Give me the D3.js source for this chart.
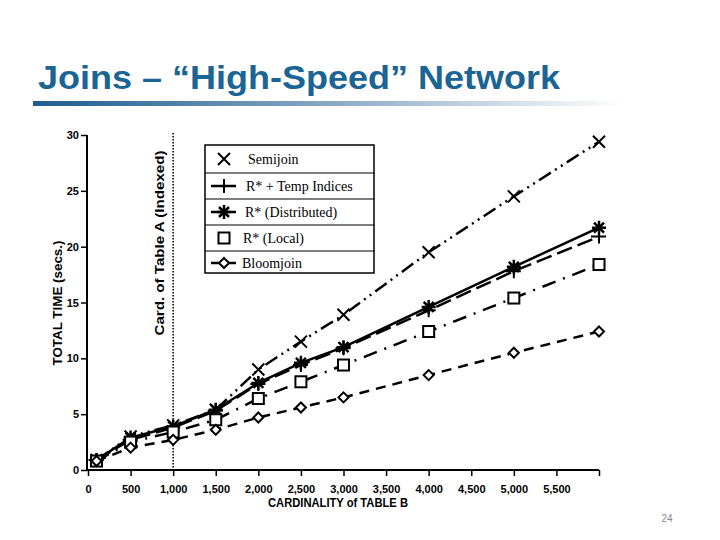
<!DOCTYPE html>
<html><head><meta charset="utf-8">
<script src="https://cdn.jsdelivr.net/npm/d3@7"></script>
<style>body{margin:0;background:#fff}svg{display:block}</style>
</head><body>
<svg id="c" width="720" height="540"></svg>
<script>
const xVals = [100, 500, 1000, 1500, 2000, 2500, 3000, 4000, 5000, 6000];
const semijoin = [0.9, 3.0, 4.0, 5.4, 9.0, 11.5, 13.9, 19.5, 24.5, 29.4];
const rTemp = [0.9, 2.7, 3.8, 5.3, 7.7, 9.4, 10.9, 14.3, 17.8, 20.9];
const rDist = [0.9, 2.9, 3.9, 5.4, 7.8, 9.6, 11.0, 14.6, 18.2, 21.7];
const rLocal = [0.8, 2.5, 3.4, 4.5, 6.4, 7.9, 9.4, 12.4, 15.4, 18.4];
const bloom = [0.8, 2.0, 2.7, 3.6, 4.7, 5.6, 6.5, 8.5, 10.5, 12.4];
const seriesNames = ["Semijoin", "R* + Temp Indices", "R* (Distributed)", "R* (Local)", "Bloomjoin"];
const xTicks = [0, 500, 1000, 1500, 2000, 2500, 3000, 3500, 4000, 4500, 5000, 5500, 6000];
const xTickLabels = ["0", "500", "1,000", "1,500", "2,000", "2,500", "3,000", "3,500", "4,000", "4,500", "5,000", "5,500", ""];
const yTicks = [0, 5, 10, 15, 20, 25, 30];
const indexedCard = 1000;

const svg = d3.select("#c");
const x = d3.scaleLinear().domain([0, 6000]).range([88, 599]);
const y = d3.scaleLinear().domain([0, 30]).range([470, 135]);

// Title
const defs = svg.append("defs");
const g = defs.append("linearGradient").attr("id", "bar").attr("x1", 0).attr("x2", 1);
g.append("stop").attr("offset", 0).attr("stop-color", "#1f5d8f");
g.append("stop").attr("offset", 0.45).attr("stop-color", "#7d9fbd");
g.append("stop").attr("offset", 1).attr("stop-color", "#ffffff");
svg.append("rect").attr("x", 33).attr("y", 101).attr("width", 590).attr("height", 5).attr("fill", "url(#bar)");
svg.append("text").attr("x", 38).attr("y", 89).text("Joins \u2013 \u201cHigh-Speed\u201d Network")
  .attr("font-family", "Liberation Sans, Arial, sans-serif").attr("font-weight", "bold")
  .attr("font-size", 34).attr("fill", "#1a6496")
  .attr("textLength", 522).attr("lengthAdjust", "spacingAndGlyphs");
svg.append("text").attr("x", 667).attr("y", 522).text("24")
  .attr("font-family", "Liberation Sans, Arial, sans-serif").attr("font-size", 10).attr("fill", "#8a8a8a").attr("text-anchor", "middle");

const axisFont = "Liberation Sans, Arial, sans-serif";

// Axes
const xAxis = svg.append("g").attr("transform", "translate(0,470)")
  .call(d3.axisBottom(x).tickValues(xTicks).tickFormat((d, i) => xTickLabels[i]).tickSize(6).tickPadding(9));
const yAxis = svg.append("g").attr("transform", "translate(87,0)")
  .call(d3.axisLeft(y).tickValues(yTicks).tickSize(6).tickPadding(2));
[xAxis, yAxis].forEach(a => {
  a.select(".domain").attr("stroke", "#000").attr("stroke-width", 2);
  a.selectAll(".tick line").attr("stroke", "#000").attr("stroke-width", 1.5);
  a.selectAll("text").attr("font-family", axisFont).attr("font-weight", "bold").attr("font-size", 11).attr("fill", "#000");
});
xAxis.select(".domain").attr("d", `M${x(0)-1},0H${x(6000)}`);
yAxis.select(".domain").attr("d", `M0,${y(0)}V${y(30)}`);
yAxis.selectAll("text").attr("dy", "0.32em");

svg.append("text").attr("x", 338).attr("y", 507).text("CARDINALITY of TABLE B")
  .attr("font-family", axisFont).attr("font-weight", "bold").attr("font-size", 12)
  .attr("text-anchor", "middle").attr("textLength", 140).attr("lengthAdjust", "spacingAndGlyphs");
svg.append("text").attr("transform", "translate(62,303) rotate(-90)").text("TOTAL TIME (secs.)")
  .attr("font-family", axisFont).attr("font-weight", "bold").attr("font-size", 12)
  .attr("text-anchor", "middle").attr("textLength", 125).attr("lengthAdjust", "spacingAndGlyphs");

// Indexed card line
svg.append("line").attr("x1", x(indexedCard)).attr("x2", x(indexedCard)).attr("y1", y(30) - 2).attr("y2", y(0))
  .attr("stroke", "#000").attr("stroke-width", 1.5).attr("stroke-dasharray", "1.5,1.5");
svg.append("text").attr("transform", `translate(${x(indexedCard) - 9},243) rotate(-90)`).text("Card. of Table A (Indexed)")
  .attr("font-family", axisFont).attr("font-weight", "bold").attr("font-size", 12)
  .attr("text-anchor", "middle").attr("textLength", 185).attr("lengthAdjust", "spacingAndGlyphs");

// Series
const series = [
  {name: seriesNames[0], vals: semijoin, dash: "14,5,2,5,2,5", marker: "x"},
  {name: seriesNames[1], vals: rTemp, dash: "16,6", marker: "plus"},
  {name: seriesNames[2], vals: rDist, dash: null, marker: "star"},
  {name: seriesNames[3], vals: rLocal, dash: "14,8,2,8", marker: "square"},
  {name: seriesNames[4], vals: bloom, dash: "10,7", marker: "diamond"}
];
const line = d3.line().x(d => x(d[0])).y(d => y(d[1]));

function drawMarker(sel, type, cx, cy) {
  const m = sel.append("g").attr("transform", `translate(${cx},${cy})`).attr("stroke", "#000").attr("fill", "none");
  if (type === "x") {
    m.append("path").attr("d", "M-6,-6L6,6M-6,6L6,-6").attr("stroke-width", 2);
  } else if (type === "plus") {
    m.append("path").attr("d", "M-8,0H7M0,-7V7").attr("stroke-width", 2);
  } else if (type === "star") {
    m.append("path").attr("d", "M-7,0H7M0,-7V7M-5,-5L5,5M-5,5L5,-5").attr("stroke-width", 2.5);
  } else if (type === "square") {
    m.append("rect").attr("x", -5.5).attr("y", -5.5).attr("width", 11).attr("height", 11).attr("fill", "#fff").attr("stroke-width", 2);
  } else if (type === "diamond") {
    m.append("path").attr("d", "M0,-5L5,0L0,5L-5,0Z").attr("fill", "#fff").attr("stroke-width", 2);
  }
}

series.forEach(s => {
  const pts = xVals.map((v, i) => [v, s.vals[i]]);
  svg.append("path").attr("d", line(pts)).attr("fill", "none").attr("stroke", "#000")
    .attr("stroke-width", 2.5).attr("stroke-dasharray", s.dash);
});
series.forEach(s => {
  const mg = svg.append("g");
  xVals.forEach((v, i) => drawMarker(mg, s.marker, x(v), y(s.vals[i])));
});

// Legend
const lg = svg.append("g");
const rowY = [159, 186, 212, 238, 263];
const textX = [248, 246, 245, 243, 242];
lg.append("rect").attr("x", 205).attr("y", 145).attr("width", 169).attr("height", 128)
  .attr("fill", "#fff").attr("stroke", "#000").attr("stroke-width", 1.5);
[173, 199, 225, 251].forEach(yy => lg.append("line").attr("x1", 205).attr("x2", 374).attr("y1", yy).attr("y2", yy)
  .attr("stroke", "#000").attr("stroke-width", 1.2));
series.forEach((s, i) => {
  if (s.marker === "plus" || s.marker === "star" || s.marker === "diamond") {
    lg.append("line").attr("x1", 211).attr("x2", 236).attr("y1", rowY[i]).attr("y2", rowY[i]).attr("stroke", "#000").attr("stroke-width", 2.5);
  }
  drawMarker(lg, s.marker, 224, rowY[i]);
  lg.append("text").attr("x", textX[i]).attr("y", rowY[i] + 4.5).text(s.name)
    .attr("font-family", "Liberation Serif, Times New Roman, serif").attr("font-size", 14).attr("fill", "#000");
});
</script>
</body></html>
